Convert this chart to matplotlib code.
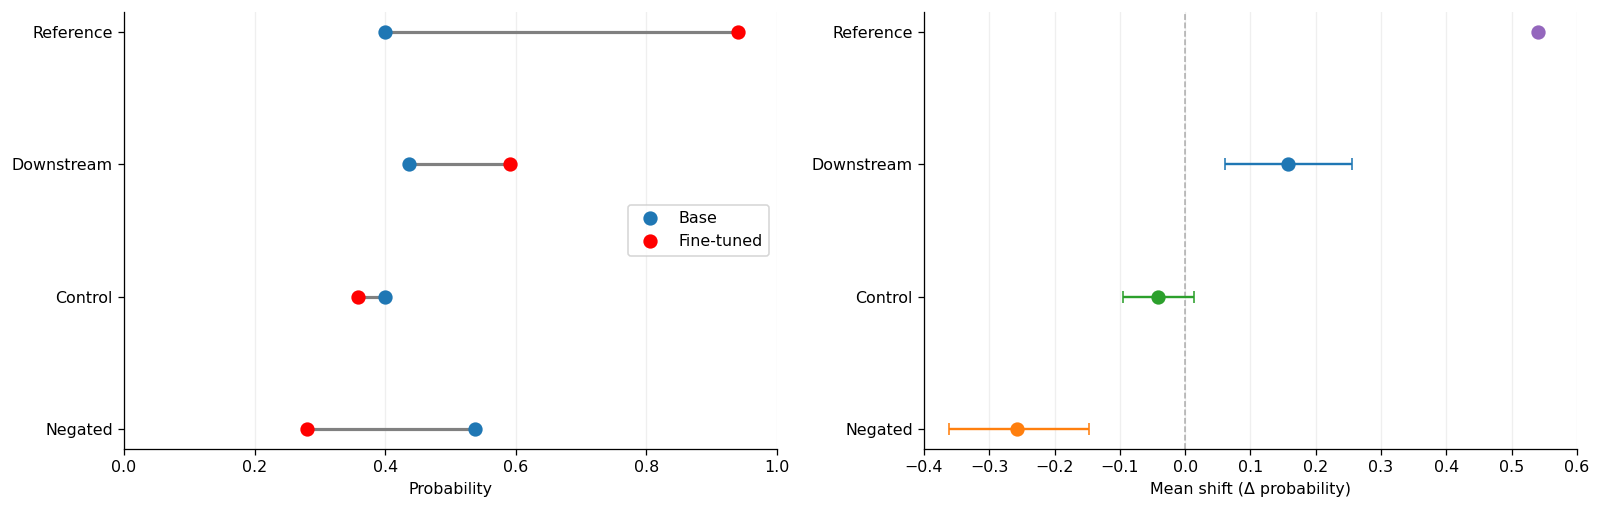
import numpy as np
import matplotlib.pyplot as plt

# ==============================================
#              DATA
# ==============================================
categories = ["Negated", "Control", "Downstream", "Reference"]
base_prob = [0.538, 0.400, 0.436, 0.400]
tuned_prob = [0.281, 0.359, 0.591, 0.940]

shift_mean = [-0.257, -0.041, 0.157, 0.540]
shift_lo = [-0.361, -0.095, 0.061, None]
shift_hi = [-0.148, 0.014, 0.255, None]
shift_colors = ["tab:orange", "tab:green", "tab:blue", "tab:purple"]

y = np.arange(len(categories))

fig, (ax1, ax2) = plt.subplots(1, 2, figsize=(14, 4.4713), dpi=114.2857)
fig.subplots_adjust(left=0.0775, right=0.9856, bottom=0.121, top=0.977, wspace=0.225)

# ==============================================
#              LEFT: dumbbell
# ==============================================
for i in range(len(categories)):
    ax1.plot([base_prob[i], tuned_prob[i]], [y[i], y[i]], color="gray", lw=2, zorder=1)
ax1.plot(base_prob, y, "o", color="tab:blue", ms=8, label="Base", zorder=3)
ax1.plot(tuned_prob, y, "o", color="red", ms=8, label="Fine-tuned", zorder=3)
ax1.set_yticks(y)
ax1.set_yticklabels(categories)
ax1.set_xlim(0, 1)
ax1.set_xlabel("Probability")
ax1.grid(axis="x", alpha=0.2)
ax1.set_axisbelow(True)
ax1.legend(loc="center right")

# ==============================================
#              RIGHT: mean shift
# ==============================================
ax2.axvline(0, color="gray", ls="--", lw=1, alpha=0.6, zorder=1)
for i in range(len(categories)):
    if shift_lo[i] is None:
        ax2.plot(shift_mean[i], y[i], "o", color=shift_colors[i], ms=8, zorder=3)
    else:
        err = [[shift_mean[i] - shift_lo[i]], [shift_hi[i] - shift_mean[i]]]
        ax2.errorbar(shift_mean[i], y[i], xerr=err, fmt="o", color=shift_colors[i],
                     ms=8, capsize=4, lw=1.5, zorder=3)
ax2.set_yticks(y)
ax2.set_yticklabels(categories)
ax2.set_xlim(-0.4, 0.6)
ax2.set_xticks(np.arange(-0.4, 0.61, 0.1))
ax2.set_xlabel("Mean shift (Δ probability)")
ax2.grid(axis="x", alpha=0.2)
ax2.set_axisbelow(True)

for ax in (ax1, ax2):
    ax.spines["top"].set_visible(False)
    ax.spines["right"].set_visible(False)

plt.savefig("out.png")
